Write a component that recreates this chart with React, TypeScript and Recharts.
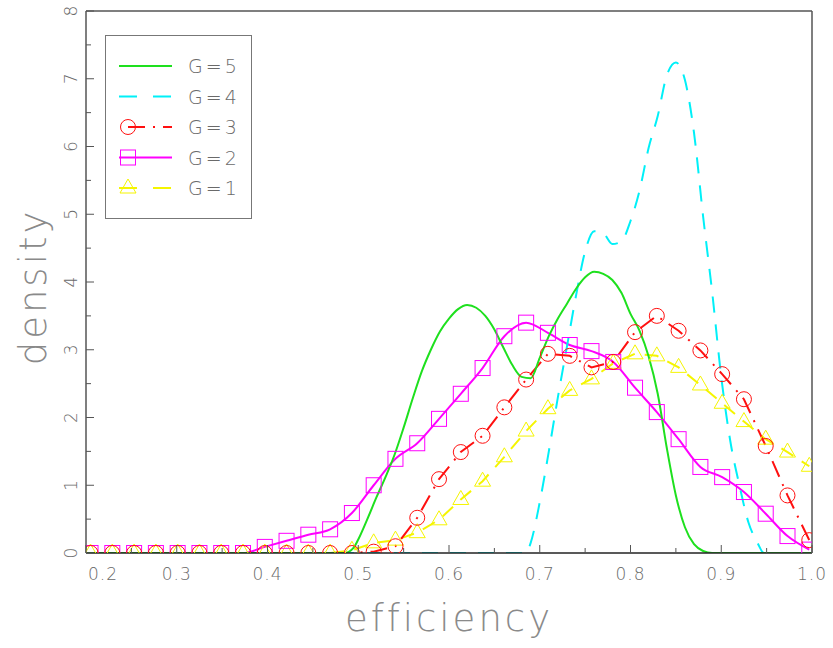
import React from 'react'
import { Legend, Line, LineChart, XAxis, YAxis } from 'recharts'

// marker series share one x grid
const gridX = [
  0.205, 0.229, 0.253, 0.277, 0.301, 0.325, 0.349, 0.373, 0.397, 0.421, 0.445, 0.469,
  0.493, 0.517, 0.541, 0.565, 0.589, 0.613, 0.637, 0.661, 0.685, 0.709, 0.733, 0.757,
  0.781, 0.805, 0.829, 0.853, 0.877, 0.901, 0.925, 0.949, 0.973, 0.997,
]
const g3 = [
  0, 0, 0, 0, 0, 0, 0, 0, 0, 0, 0, 0, 0, 0.02, 0.1, 0.52, 1.09, 1.49, 1.73, 2.15, 2.56,
  2.94, 2.91, 2.74, 2.82, 3.26, 3.5, 3.28, 2.99, 2.64, 2.27, 1.58, 0.85, 0.19,
]
const g2 = [
  0, 0, 0, 0, 0, 0, 0, 0, 0.09, 0.18, 0.27, 0.35, 0.59, 1.0, 1.39, 1.62, 1.98, 2.35, 2.73,
  3.2, 3.4, 3.25, 3.07, 2.98, 2.82, 2.44, 2.08, 1.68, 1.27, 1.12, 0.9, 0.58, 0.25, 0.05,
]
const g1 = [
  0, 0, 0, 0, 0, 0, 0, 0, 0, 0, 0, 0, 0.04, 0.15, 0.19, 0.3, 0.49, 0.79, 1.06, 1.42, 1.8,
  2.13, 2.4, 2.57, 2.8, 2.94, 2.91, 2.74, 2.48, 2.21, 1.94, 1.68, 1.49, 1.28,
]

// smooth curves
const g5X = [
  0.2, 0.485, 0.495, 0.5, 0.51, 0.52, 0.53, 0.54, 0.55, 0.56, 0.57, 0.58, 0.59, 0.6, 0.61,
  0.62, 0.63, 0.64, 0.65, 0.66, 0.67, 0.68, 0.69, 0.7, 0.71, 0.72, 0.73, 0.74, 0.75, 0.76,
  0.77, 0.78, 0.79, 0.8, 0.81, 0.82, 0.83, 0.84, 0.85, 0.86, 0.87, 0.88, 0.89, 1.0,
]
const g5Y = [
  0, 0, 0.08, 0.2, 0.5, 0.82, 1.12, 1.45, 1.85, 2.28, 2.68, 3.0, 3.27, 3.46, 3.6, 3.66, 3.62,
  3.5, 3.3, 3.03, 2.77, 2.6, 2.58, 2.88, 3.2, 3.46, 3.68, 3.9, 4.07, 4.15, 4.12, 4.03, 3.84,
  3.53, 3.28, 2.9, 2.35, 1.55, 0.85, 0.38, 0.13, 0.03, 0, 0,
]
const g4X = [
  0.2, 0.685, 0.69, 0.7, 0.71, 0.72, 0.73, 0.74, 0.75, 0.76, 0.77, 0.78, 0.79, 0.8, 0.81,
  0.82, 0.83, 0.84, 0.85, 0.86, 0.87, 0.88, 0.89, 0.9, 0.91, 0.92, 0.93, 0.94, 0.947, 1.0,
]
const g4Y = [
  0, 0, 0.15, 0.75, 1.5, 2.3, 3.05, 3.8, 4.45, 4.75, 4.72, 4.56, 4.6, 4.9, 5.35, 5.98, 6.45,
  7.05, 7.24, 6.98, 6.2, 4.97, 3.85, 2.6, 1.65, 1.0, 0.45, 0.15, 0, 0,
]

const xTicks = [
  0.2, 0.25, 0.3, 0.35, 0.4, 0.45, 0.5, 0.55, 0.6, 0.65, 0.7, 0.75, 0.8, 0.85, 0.9, 0.95, 1.0,
]
const yTicks = [0, 0.5, 1, 1.5, 2, 2.5, 3, 3.5, 4, 4.5, 5, 5.5, 6, 6.5, 7, 7.5, 8]

const GREEN = '#1ee01e'
const CYAN = '#00f0f8'
const RED = '#ff1010'
const MAGENTA = '#ff00ff'
const YELLOW = '#f5f500'
const FRAME = '#555'
const TEXT = '#6a6a6a'
const FONT = '"DejaVu Sans", sans-serif'

const toRows = (xs: number[], ys: number[]) => xs.map((x, i) => ({ x, y: ys[i] }))
const g5Data = toRows(g5X, g5Y)
const g4Data = toRows(g4X, g4Y)
const g3Data = toRows(gridX, g3)
const g2Data = toRows(gridX, g2)
const g1Data = toRows(gridX, g1)

const isMajorX = (v: number) => Math.abs(v * 10 - Math.round(v * 10)) < 1e-6

const circleShape = (cx: number, cy: number, key?: any) => (
  <circle key={key} cx={cx} cy={cy} r={7.5} fill="none" stroke={RED} strokeWidth={1} />
)
const squareShape = (cx: number, cy: number, key?: any) => (
  <rect key={key} x={cx - 7.5} y={cy - 7.5} width={15} height={15} fill="none" stroke={MAGENTA} strokeWidth={1} />
)
const triangleShape = (cx: number, cy: number, key?: any) => (
  <path
    key={key}
    d={`M${cx},${cy - 9}L${cx - 8},${cy + 5}L${cx + 8},${cy + 5}Z`}
    fill="none"
    stroke={YELLOW}
    strokeWidth={1}
  />
)

const BottomTick = (props: any) => {
  const { x, y, payload, index } = props
  const major = isMajorX(payload.value)
  const first = index === 0
  return (
    <g>
      <line x1={x} x2={x} y1={y} y2={y - (major ? 8 : 5)} stroke={FRAME} />
      {major && (
        <text
          x={first ? x + 2 : x}
          y={y + 27}
          textAnchor={first ? 'start' : 'middle'}
          fontSize={17}
          fontFamily={FONT}
          fontWeight={200}
          fill={TEXT}
          letterSpacing={1}
        >
          {payload.value.toFixed(1)}
        </text>
      )}
    </g>
  )
}

const TopTick = (props: any) => {
  const { x, y, payload } = props
  const major = isMajorX(payload.value)
  return <line x1={x} x2={x} y1={y} y2={y + (major ? 8 : 5)} stroke={FRAME} />
}

const LeftTick = (props: any) => {
  const { x, y, payload } = props
  const major = Number.isInteger(payload.value)
  return (
    <g>
      <line x1={x} x2={x + (major ? 8 : 5)} y1={y} y2={y} stroke={FRAME} />
      {major && (
        <text
          x={x - 9}
          y={y}
          transform={`rotate(-90 ${x - 9} ${y})`}
          textAnchor="middle"
          fontSize={17}
          fontFamily={FONT}
          fontWeight={200}
          fill={TEXT}
        >
          {payload.value}
        </text>
      )}
    </g>
  )
}

const RightTick = (props: any) => {
  const { x, y, payload } = props
  const major = Number.isInteger(payload.value)
  return <line x1={x} x2={x - (major ? 8 : 5)} y1={y} y2={y} stroke={FRAME} />
}

const legendRows = [
  { name: 'G=5', color: GREEN, dash: undefined, marker: null },
  { name: 'G=4', color: CYAN, dash: '18 16', marker: null },
  { name: 'G=3', color: RED, dash: '17 8 2 8', marker: circleShape },
  { name: 'G=2', color: MAGENTA, dash: undefined, marker: squareShape },
  { name: 'G=1', color: YELLOW, dash: '18 16', marker: triangleShape },
]

const LegendBox = () => (
  <svg width={148} height={185}>
    <rect x={0.5} y={0.5} width={146} height={183} fill="#fff" stroke="#777" strokeWidth={1} />
    {legendRows.map((r, i) => {
      const cy = 31 + i * 30.5
      return (
        <g key={r.name}>
          <line
            x1={r.marker === circleShape ? 23 : 14}
            x2={67}
            y1={cy}
            y2={cy}
            stroke={r.color}
            strokeWidth={2}
            strokeDasharray={r.dash}
          />
          {r.marker && r.marker(23, cy)}
          <text
            x={83}
            y={cy + 7}
            fontSize={19}
            fontFamily={FONT}
            fontWeight={200}
            fill={TEXT}
            letterSpacing={3}
          >
            {r.name}
          </text>
        </g>
      )
    })}
  </svg>
)

export default function App() {
  return (
    <div style={{ width: 833, height: 648 }}>
      <style>{'body{margin:0}'}</style>
      <LineChart
        width={833}
        height={648}
        margin={{ top: 10, right: 20, bottom: 55, left: 16 }}
      >
        <XAxis
          dataKey="x"
          type="number"
          domain={[0.2, 1.0]}
          ticks={xTicks}
          interval={0}
          height={40}
          tickSize={0}
          tickMargin={0}
          tickLine={false}
          tick={BottomTick}
          axisLine={{ stroke: '#222', strokeWidth: 1.5 }}
          allowDataOverflow
          label={{
            content: () => (
              <text
                x={449}
                y={631}
                textAnchor="middle"
                fontSize={37}
                fontFamily={FONT}
                fontWeight={200}
                fill="#8a8a8a"
                letterSpacing={3}
              >
                efficiency
              </text>
            ),
          }}
        />
        <XAxis
          xAxisId="top"
          orientation="top"
          dataKey="x"
          type="number"
          domain={[0.2, 1.0]}
          ticks={xTicks}
          interval={0}
          height={1}
          tickSize={0}
          tickMargin={0}
          tickLine={false}
          tick={TopTick}
          axisLine={{ stroke: FRAME, strokeWidth: 1.5 }}
        />
        <YAxis
          type="number"
          domain={[0, 8]}
          ticks={yTicks}
          interval={0}
          width={70}
          tickSize={0}
          tickMargin={0}
          tickLine={false}
          tick={LeftTick}
          axisLine={{ stroke: FRAME, strokeWidth: 1.5 }}
          allowDataOverflow
          label={{
            content: () => (
              <text
                x={46}
                y={287}
                transform="rotate(-90 46 287)"
                textAnchor="middle"
                fontSize={37}
                fontFamily={FONT}
                fontWeight={200}
                fill="#8a8a8a"
                letterSpacing={3}
              >
                density
              </text>
            ),
          }}
        />
        <YAxis
          yAxisId="right"
          orientation="right"
          type="number"
          domain={[0, 8]}
          ticks={yTicks}
          interval={0}
          width={1}
          tickSize={0}
          tickMargin={0}
          tickLine={false}
          tick={RightTick}
          axisLine={{ stroke: FRAME, strokeWidth: 1.5 }}
        />
        <Legend
          layout="vertical"
          align="center"
          verticalAlign="middle"
          wrapperStyle={{ left: 105, top: 35, width: 148, height: 185 }}
          content={() => <LegendBox />}
        />
        <Line
          data={g1Data}
          dataKey="y"
          type="linear"
          stroke={YELLOW}
          strokeWidth={2}
          strokeDasharray="14 10"
          dot={(p: any) => triangleShape(p.cx, p.cy, `t${p.index}`)}
          activeDot={false}
          isAnimationActive={false}
        />
        <Line
          data={g2Data}
          dataKey="y"
          type="monotone"
          stroke={MAGENTA}
          strokeWidth={2}
          dot={(p: any) => squareShape(p.cx, p.cy, `s${p.index}`)}
          activeDot={false}
          isAnimationActive={false}
        />
        <Line
          data={g3Data}
          dataKey="y"
          type="linear"
          stroke={RED}
          strokeWidth={2}
          strokeDasharray="17 8 2 8"
          dot={(p: any) => circleShape(p.cx, p.cy, `c${p.index}`)}
          activeDot={false}
          isAnimationActive={false}
        />
        <Line
          data={g4Data}
          dataKey="y"
          type="monotone"
          stroke={CYAN}
          strokeWidth={2}
          strokeDasharray="16 12"
          dot={false}
          activeDot={false}
          isAnimationActive={false}
        />
        <Line
          data={g5Data}
          dataKey="y"
          type="monotone"
          stroke={GREEN}
          strokeWidth={2}
          dot={false}
          activeDot={false}
          isAnimationActive={false}
        />
      </LineChart>
    </div>
  )
}
